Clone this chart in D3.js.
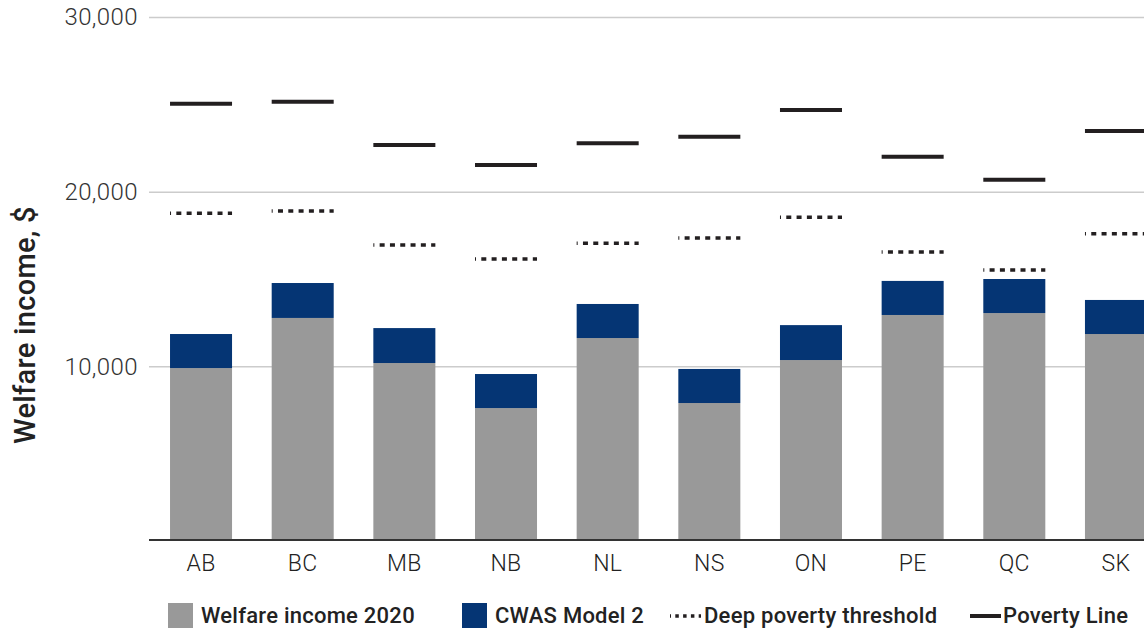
<!DOCTYPE html>
<html>
<head>
<meta charset="utf-8">
<script src="https://cdn.jsdelivr.net/npm/d3@7"></script>
<style>
  body { margin: 0; background: #fff; }
  svg { display: block; font-family: Roboto, "Liberation Sans", sans-serif; }
</style>
</head>
<body>
<svg id="chart"></svg>
<script>
// provinces along the x axis
const provinces = ["AB", "BC", "MB", "NB", "NL", "NS", "ON", "PE", "QC", "SK"]

// welfare income 2020 (grey part of the bar)
const welfare = [9900, 12770, 10190, 7610, 11620, 7900, 10360, 12940, 13050, 11850]
// extra from CWAS Model 2 (blue part stacked on top)
const cwas = [1950, 2000, 2000, 1950, 1950, 1950, 2000, 1950, 1950, 1950]
// thresholds drawn as short horizontal lines
const deepPoverty = [18760, 18890, 16950, 16150, 17040, 17350, 18530, 16550, 15520, 17590]
const povertyLine = [25030, 25150, 22670, 21530, 22770, 23150, 24680, 22000, 20680, 23470]

const yTicks = [10000, 20000, 30000]

const width = 1144
const height = 630

const grey = "#999999"
const blue = "#053574"
const ink = "#231f20"

const svg = d3.select("#chart")
  .attr("width", width)
  .attr("height", height)

const x = d3.scaleBand()
  .domain(provinces)
  .range([150, 1167])
  .paddingInner(0.39)
  .paddingOuter(0.197)

const y = d3.scaleLinear()
  .domain([0, 30000])
  .range([541, 17])

// gridlines + tick labels
const yAxis = d3.axisLeft(y)
  .tickValues(yTicks)
  .tickSize(-(width - 149))
  .tickFormat(d3.format(","))

svg.append("g")
  .attr("transform", "translate(149,0)")
  .call(yAxis)
  .call(g => g.select(".domain").remove())
  .call(g => g.selectAll(".tick line")
    .attr("stroke", "#cccccc")
    .attr("stroke-width", 1.5))
  .call(g => g.selectAll(".tick text")
    .attr("x", -11)
    .attr("fill", "#333")
    .attr("font-size", 24)
    .attr("font-weight", 300)
    .attr("letter-spacing", 0.4)
    .attr("font-family", "Roboto, sans-serif"))

// stacked bars
const rows = provinces.map((p, i) => ({
  p: p,
  welfare: welfare[i],
  cwas: cwas[i],
  deep: deepPoverty[i],
  pov: povertyLine[i]
}))

svg.append("g")
  .selectAll("rect")
  .data(rows)
  .join("rect")
  .attr("x", d => x(d.p))
  .attr("width", x.bandwidth())
  .attr("y", d => y(d.welfare))
  .attr("height", d => y(0) - y(d.welfare))
  .attr("fill", grey)

svg.append("g")
  .selectAll("rect")
  .data(rows)
  .join("rect")
  .attr("x", d => x(d.p))
  .attr("width", x.bandwidth())
  .attr("y", d => y(d.welfare + d.cwas))
  .attr("height", d => y(d.welfare) - y(d.welfare + d.cwas))
  .attr("fill", blue)

// baseline
svg.append("line")
  .attr("x1", 149)
  .attr("x2", width)
  .attr("y1", y(0) - 1)
  .attr("y2", y(0) - 1)
  .attr("stroke", "#333")
  .attr("stroke-width", 2)

// poverty line markers
svg.append("g")
  .selectAll("line")
  .data(rows)
  .join("line")
  .attr("x1", d => x(d.p))
  .attr("x2", d => x(d.p) + x.bandwidth())
  .attr("y1", d => y(d.pov))
  .attr("y2", d => y(d.pov))
  .attr("stroke", ink)
  .attr("stroke-width", 4)

// deep poverty markers (dotted)
svg.append("g")
  .selectAll("line")
  .data(rows)
  .join("line")
  .attr("x1", d => x(d.p))
  .attr("x2", d => x(d.p) + x.bandwidth())
  .attr("y1", d => y(d.deep))
  .attr("y2", d => y(d.deep))
  .attr("stroke", ink)
  .attr("stroke-width", 3.5)
  .attr("stroke-dasharray", "5 5.3")
  .attr("stroke-dashoffset", 4)

// x labels
svg.append("g")
  .selectAll("text")
  .data(provinces)
  .join("text")
  .attr("x", d => x(d) + x.bandwidth() / 2)
  .attr("y", 571)
  .attr("text-anchor", "middle")
  .attr("fill", "#222")
  .attr("font-size", 23)
  .attr("font-weight", 300)
  .attr("letter-spacing", 0.3)
  .text(d => d)

// y axis title
svg.append("text")
  .attr("transform", "translate(35,325) rotate(-90)")
  .attr("text-anchor", "middle")
  .attr("fill", "#222")
  .attr("font-size", 29)
  .attr("font-weight", 500)
  .attr("letter-spacing", 0.3)
  .text("Welfare income, $")

// legend
const legend = svg.append("g")
  .attr("font-size", 22)
  .attr("font-weight", 500)
  .attr("letter-spacing", 0.25)
  .attr("fill", "#222")

const swatches = [
  { label: "Welfare income 2020", color: grey, x: 168 },
  { label: "CWAS Model 2", color: blue, x: 462 }
]

swatches.forEach(s => {
  legend.append("rect")
    .attr("x", s.x)
    .attr("y", 603)
    .attr("width", 25)
    .attr("height", 25)
    .attr("fill", s.color)
  legend.append("text")
    .attr("x", s.x + 33)
    .attr("y", 623)
    .text(s.label)
})

legend.append("line")
  .attr("x1", 670)
  .attr("x2", 701)
  .attr("y1", 616)
  .attr("y2", 616)
  .attr("stroke", ink)
  .attr("stroke-width", 3.5)
  .attr("stroke-dasharray", "3.5 4.3")
  .attr("stroke-dashoffset", 2.5)
legend.append("text")
  .attr("x", 704)
  .attr("y", 623)
  .text("Deep poverty threshold")

legend.append("line")
  .attr("x1", 970)
  .attr("x2", 1001)
  .attr("y1", 616)
  .attr("y2", 616)
  .attr("stroke", ink)
  .attr("stroke-width", 4)
legend.append("text")
  .attr("x", 1003)
  .attr("y", 623)
  .text("Poverty Line")
</script>
</body>
</html>
